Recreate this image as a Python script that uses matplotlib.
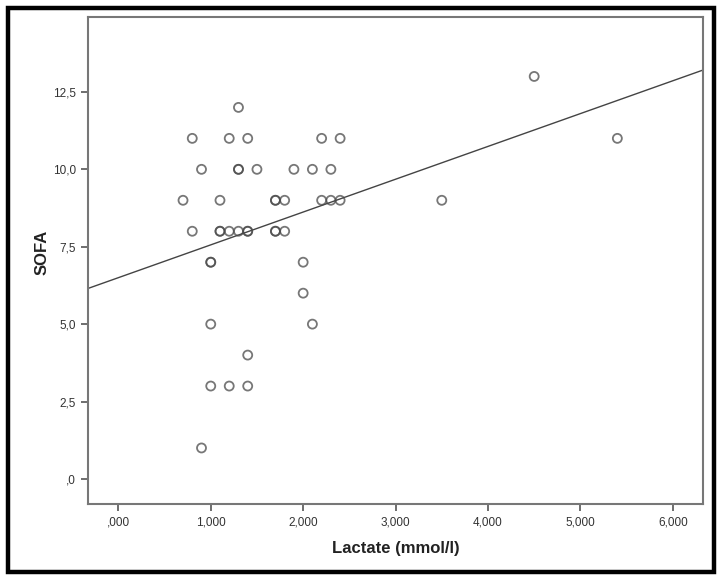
import matplotlib
matplotlib.use("Agg")
import matplotlib.pyplot as plt
from matplotlib.patches import Rectangle
import numpy as np

plt.rcParams['font.family'] = ['Liberation Sans', 'DejaVu Sans']

# Data (duplicates appear as darker circles)
lactate = [0.7, 0.8, 0.8, 0.9, 0.9, 1.0, 1.0, 1.0, 1.0, 1.1, 1.1, 1.1,
           1.2, 1.2, 1.2, 1.3, 1.3, 1.3, 1.3, 1.4, 1.4, 1.4, 1.4, 1.4,
           1.5, 1.7, 1.7, 1.7, 1.7, 1.8, 1.8, 1.9, 2.0, 2.0, 2.1, 2.1,
           2.2, 2.2, 2.3, 2.3, 2.4, 2.4, 3.5, 4.5, 5.4]
sofa = [9, 11, 8, 10, 1, 7, 7, 5, 3, 9, 8, 8,
        11, 8, 3, 12, 10, 10, 8, 11, 8, 8, 4, 3,
        10, 9, 9, 8, 8, 9, 8, 10, 7, 6, 10, 5,
        11, 9, 10, 9, 11, 9, 9, 13, 11]

fit_intercept = 6.5
fit_slope = 1.06

x_ticks = [0, 1, 2, 3, 4, 5, 6]
x_ticklabels = [",000", "1,000", "2,000", "3,000", "4,000", "5,000", "6,000"]
y_ticks = [0, 2.5, 5, 7.5, 10, 12.5]
y_ticklabels = [",0", "2,5", "5,0", "7,5", "10,0", "12,5"]

W, H = 721, 580
fig = plt.figure(figsize=(W / 100, H / 100), dpi=100)
ax = fig.add_axes([88.3 / W, 1 - 504 / H, (703.3 - 88.3) / W, (504 - 17) / H])

xmin, xmax = -0.325, 6.33
ymin, ymax = -0.81, 14.92
ax.set_xlim(xmin, xmax)
ax.set_ylim(ymin, ymax)

ax.scatter(lactate, sofa, s=42, facecolors='none', edgecolors='#4a4a4a',
           linewidths=1.3, alpha=0.75, zorder=3)

xs = np.array([xmin, xmax])
ax.plot(xs, fit_intercept + fit_slope * xs, color='#444444', lw=1.0, zorder=2)

ax.set_xticks(x_ticks)
ax.set_xticklabels(x_ticklabels)
ax.set_yticks(y_ticks)
ax.set_yticklabels(y_ticklabels)
ax.tick_params(direction='out', length=5, width=1.2, color='#555555',
               labelsize=8.5, labelcolor='#333333', pad=4)

for s in ax.spines.values():
    s.set_color('#777777')
    s.set_linewidth(1.5)

ax.set_xlabel("Lactate (mmol/l)", fontsize=12, fontweight='bold', color='#222222', labelpad=9)
ax.set_ylabel("SOFA", fontsize=12, fontweight='bold', color='#222222',
              va='center', ha='center')
ax.yaxis.set_label_coords(-0.075, 0.517)

fig.patches.append(Rectangle((8 / W, 1 - 572 / H), (714 - 8) / W, (572 - 8) / H,
                             transform=fig.transFigure, fill=False,
                             edgecolor='black', linewidth=3.2))

fig.savefig("out.png", dpi=100)
